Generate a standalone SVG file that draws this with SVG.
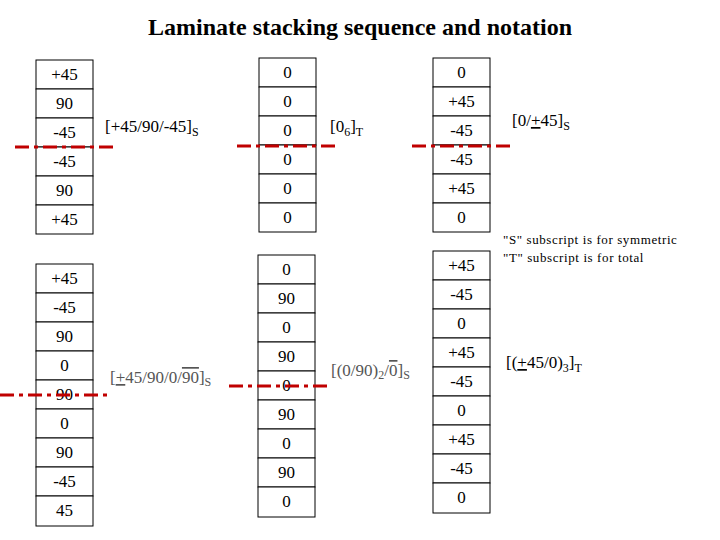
<svg xmlns="http://www.w3.org/2000/svg" width="720" height="540" viewBox="0 0 720 540">
<style>
text{font-family:"Liberation Serif","DejaVu Serif",serif}
.c{fill:#fff;stroke:#000;stroke-width:1}
.t{font-size:17px;text-anchor:middle}
.l{font-size:17px}
.g{fill:#555}
.cut{stroke:#c00000;stroke-width:3;stroke-dasharray:14,5,4,5}
</style>
<rect width="720" height="540" fill="#fff"/>
<text x="360" y="35" text-anchor="middle" font-size="24" font-weight="bold">Laminate stacking sequence and notation</text>
<g id="stack1">
<rect class="c" x="36" y="60" width="57" height="29"/><text class="t" x="64.5" y="80">+45</text>
<rect class="c" x="36" y="89" width="57" height="29"/><text class="t" x="64.5" y="109">90</text>
<rect class="c" x="36" y="118" width="57" height="29"/><text class="t" x="64.5" y="138">-45</text>
<rect class="c" x="36" y="147" width="57" height="29"/><text class="t" x="64.5" y="167">-45</text>
<rect class="c" x="36" y="176" width="57" height="29"/><text class="t" x="64.5" y="196">90</text>
<rect class="c" x="36" y="205" width="57" height="29"/><text class="t" x="64.5" y="225">+45</text>
</g>
<g id="stack2">
<rect class="c" x="259" y="58" width="57" height="29"/><text class="t" x="287.5" y="78">0</text>
<rect class="c" x="259" y="87" width="57" height="29"/><text class="t" x="287.5" y="107">0</text>
<rect class="c" x="259" y="116" width="57" height="29"/><text class="t" x="287.5" y="136">0</text>
<rect class="c" x="259" y="145" width="57" height="29"/><text class="t" x="287.5" y="165">0</text>
<rect class="c" x="259" y="174" width="57" height="29"/><text class="t" x="287.5" y="194">0</text>
<rect class="c" x="259" y="203" width="57" height="29"/><text class="t" x="287.5" y="223">0</text>
</g>
<g id="stack3">
<rect class="c" x="433" y="58" width="57" height="29"/><text class="t" x="461.5" y="78">0</text>
<rect class="c" x="433" y="87" width="57" height="29"/><text class="t" x="461.5" y="107">+45</text>
<rect class="c" x="433" y="116" width="57" height="29"/><text class="t" x="461.5" y="136">-45</text>
<rect class="c" x="433" y="145" width="57" height="29"/><text class="t" x="461.5" y="165">-45</text>
<rect class="c" x="433" y="174" width="57" height="29"/><text class="t" x="461.5" y="194">+45</text>
<rect class="c" x="433" y="203" width="57" height="29"/><text class="t" x="461.5" y="223">0</text>
</g>
<g id="stack4">
<rect class="c" x="36" y="264" width="57" height="29"/><text class="t" x="64.5" y="284">+45</text>
<rect class="c" x="36" y="293" width="57" height="29"/><text class="t" x="64.5" y="313">-45</text>
<rect class="c" x="36" y="322" width="57" height="29"/><text class="t" x="64.5" y="342">90</text>
<rect class="c" x="36" y="351" width="57" height="29"/><text class="t" x="64.5" y="371">0</text>
<rect class="c" x="36" y="380" width="57" height="29"/><text class="t" x="64.5" y="400">90</text>
<rect class="c" x="36" y="409" width="57" height="29"/><text class="t" x="64.5" y="429">0</text>
<rect class="c" x="36" y="438" width="57" height="29"/><text class="t" x="64.5" y="458">90</text>
<rect class="c" x="36" y="467" width="57" height="29"/><text class="t" x="64.5" y="487">-45</text>
<rect class="c" x="36" y="496" width="57" height="30"/><text class="t" x="64.5" y="516">45</text>
</g>
<g id="stack5">
<rect class="c" x="258" y="255" width="57" height="29"/><text class="t" x="286.5" y="275">0</text>
<rect class="c" x="258" y="284" width="57" height="29"/><text class="t" x="286.5" y="304">90</text>
<rect class="c" x="258" y="313" width="57" height="29"/><text class="t" x="286.5" y="333">0</text>
<rect class="c" x="258" y="342" width="57" height="29"/><text class="t" x="286.5" y="362">90</text>
<rect class="c" x="258" y="371" width="57" height="29"/><text class="t" x="286.5" y="391">0</text>
<rect class="c" x="258" y="400" width="57" height="29"/><text class="t" x="286.5" y="420">90</text>
<rect class="c" x="258" y="429" width="57" height="29"/><text class="t" x="286.5" y="449">0</text>
<rect class="c" x="258" y="458" width="57" height="29"/><text class="t" x="286.5" y="478">90</text>
<rect class="c" x="258" y="487" width="57" height="30"/><text class="t" x="286.5" y="507">0</text>
</g>
<g id="stack6">
<rect class="c" x="433" y="251" width="57" height="29"/><text class="t" x="461.5" y="271">+45</text>
<rect class="c" x="433" y="280" width="57" height="29"/><text class="t" x="461.5" y="300">-45</text>
<rect class="c" x="433" y="309" width="57" height="29"/><text class="t" x="461.5" y="329">0</text>
<rect class="c" x="433" y="338" width="57" height="29"/><text class="t" x="461.5" y="358">+45</text>
<rect class="c" x="433" y="367" width="57" height="29"/><text class="t" x="461.5" y="387">-45</text>
<rect class="c" x="433" y="396" width="57" height="29"/><text class="t" x="461.5" y="416">0</text>
<rect class="c" x="433" y="425" width="57" height="29"/><text class="t" x="461.5" y="445">+45</text>
<rect class="c" x="433" y="454" width="57" height="29"/><text class="t" x="461.5" y="474">-45</text>
<rect class="c" x="433" y="483" width="57" height="30"/><text class="t" x="461.5" y="503">0</text>
</g>
<g id="connectors">
<line class="cut" x1="15" y1="147" x2="117" y2="147"/>
<line class="cut" x1="237" y1="146" x2="340" y2="146"/>
<line class="cut" x1="412" y1="146" x2="513" y2="146"/>
<line class="cut" x1="0" y1="395" x2="110" y2="395"/>
<line class="cut" x1="229" y1="386" x2="332" y2="386"/>
</g>
<g id="labels">
<text class="l" x="105" y="132">[+45/90/-45]<tspan font-size="12" dy="4">S</tspan></text>
<text class="l" x="330" y="132">[0<tspan font-size="12" dy="4">6</tspan><tspan dy="-4">]</tspan><tspan font-size="12" dy="4">T</tspan></text>
<text class="l" x="512" y="126">[0/<tspan text-decoration="underline">+</tspan>45]<tspan font-size="12" dy="4">S</tspan></text>
<text font-size="13" x="503" y="244" letter-spacing="0.6">"S"  subscript is for symmetric</text>
<text font-size="13" x="503" y="262" letter-spacing="0.6">"T"  subscript is for total</text>
<text class="l g" x="110" y="383">[<tspan text-decoration="underline">+</tspan>45/90/0/<tspan text-decoration="overline">90</tspan>]<tspan font-size="12" dy="3">S</tspan></text>
<text class="l g" x="331" y="376">[(0/90)<tspan font-size="12" dy="3">2</tspan><tspan dy="-3">/</tspan><tspan text-decoration="overline">0</tspan>]<tspan font-size="12" dy="3">S</tspan></text>
<text class="l" x="506" y="368">[(<tspan text-decoration="underline">+</tspan>45/0)<tspan font-size="12" dy="4">3</tspan><tspan dy="-4">]</tspan><tspan font-size="12" dy="4">T</tspan></text>
</g>
</svg>
